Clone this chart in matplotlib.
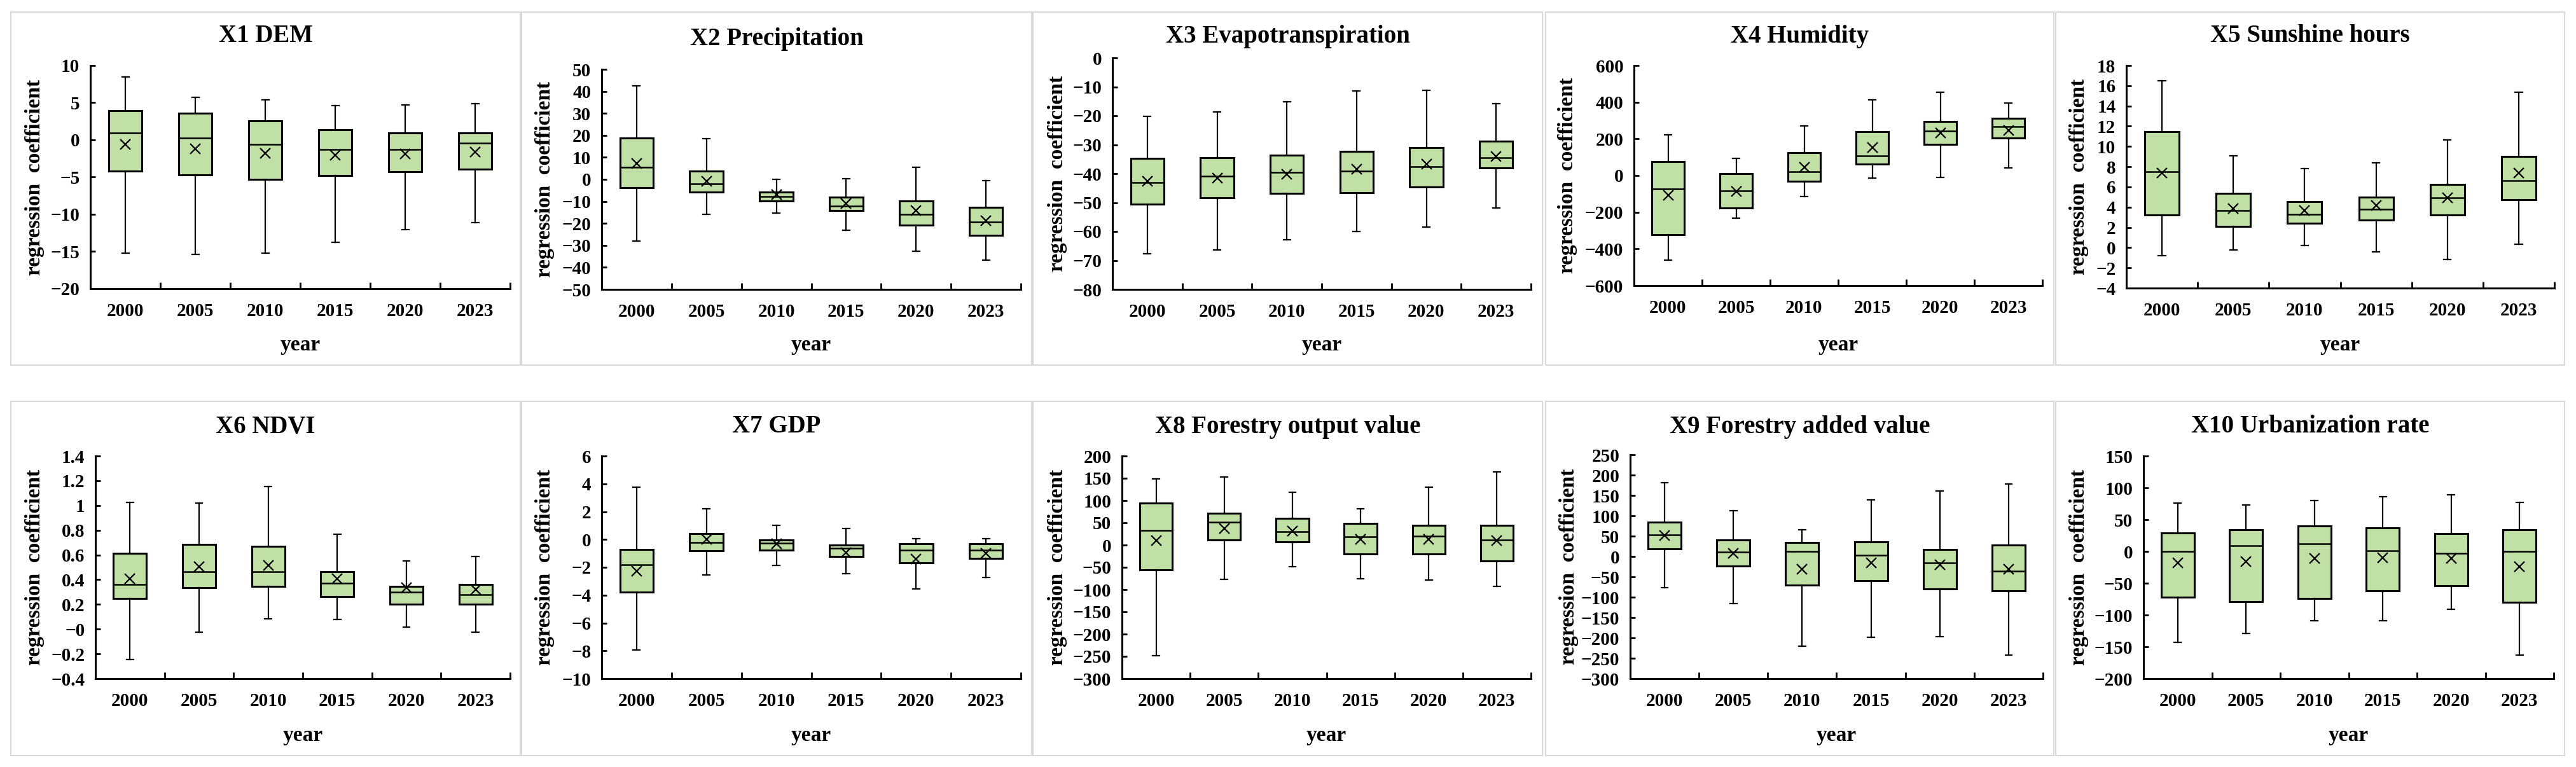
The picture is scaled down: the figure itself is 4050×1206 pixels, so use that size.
import numpy as np
import matplotlib
matplotlib.use('Agg')
import matplotlib.pyplot as plt
from matplotlib.patches import Rectangle
from matplotlib.ticker import FuncFormatter, FixedLocator

plt.rcParams['font.family'] = ['Liberation Serif', 'DejaVu Serif']
plt.rcParams['font.weight'] = 'bold'

years = ['2000', '2005', '2010', '2015', '2020', '2023']
titles = ['X1 DEM', 'X2 Precipitation', 'X3 Evapotranspiration', 'X4 Humidity',
          'X5 Sunshine hours', 'X6 NDVI', 'X7 GDP', 'X8 Forestry output value',
          'X9 Forestry added value', 'X10 Urbanization rate']

# box statistics, one row per factor, one column per year
whis_hi = [[8.5, 5.75, 5.4, 4.6, 4.67, 4.83],
           [42.5, 18.4, 0.0, 0.2, 5.6, -0.7],
           [-20.3, -18.7, -15.1, -11.4, -11.1, -15.8],
           [223, 93, 270, 411, 454, 395],
           [16.5, 9.05, 7.83, 8.36, 10.66, 15.38],
           [1.024, 1.018, 1.152, 0.767, 0.552, 0.585],
           [3.78, 2.22, 1.02, 0.77, 0.05, 0.05],
           [149, 153, 118, 82, 130, 164],
           [182, 113, 66, 139, 161, 178],
           [76, 73, 80, 86, 89, 77]]
q3 = [[3.95, 3.56, 2.6, 1.33, 0.94, 0.91],
      [18.9, 3.8, -5.9, -8.2, -9.9, -12.8],
      [-34.8, -34.5, -33.6, -32.4, -30.9, -28.8],
      [78, 9, 124, 241, 294, 311],
      [11.47, 5.36, 4.56, 5.0, 6.24, 9.03],
      [0.613, 0.684, 0.668, 0.462, 0.345, 0.361],
      [-0.7, 0.44, -0.03, -0.38, -0.33, -0.29],
      [94, 71, 60, 48, 44, 45],
      [84, 41, 34, 36, 17, 28],
      [29, 34, 40, 37, 28, 34]]
med = [[0.9, 0.28, -0.57, -1.32, -1.32, -0.47],
       [5.5, -2.0, -7.7, -12.1, -15.9, -19.5],
       [-43.0, -40.9, -39.6, -39.2, -37.6, -34.6],
       [-73, -82, 20, 108, 242, 267],
       [7.52, 3.7, 3.29, 3.8, 4.95, 6.63],
       [0.361, 0.466, 0.462, 0.373, 0.298, 0.279],
       [-1.82, -0.22, -0.28, -0.64, -0.77, -0.77],
       [33, 51, 30, 19, 20, 11],
       [53, 11, 13, 3, -16, -36],
       [0, 9, 12, 1, -3, 0]]
mean = [[-0.57, -1.19, -1.78, -2.04, -1.84, -1.61],
        [7.1, -0.9, -7.0, -10.9, -14.3, -18.9],
        [-42.7, -41.5, -40.2, -38.4, -36.8, -34.1],
        [-108, -85, 44, 154, 234, 245],
        [7.4, 3.87, 3.68, 4.16, 4.92, 7.35],
        [0.406, 0.505, 0.515, 0.406, 0.334, 0.318],
        [-2.27, 0.02, -0.33, -0.96, -1.4, -1.0],
        [10, 37, 31, 13, 13, 10],
        [51, 8, -31, -16, -21, -32],
        [-18, -16, -11, -10, -11, -24]]
q1 = [[-4.16, -4.72, -5.31, -4.79, -4.26, -3.9],
      [-3.9, -5.9, -9.7, -14.3, -20.9, -25.5],
      [-50.5, -48.3, -46.9, -46.6, -44.6, -38.0],
      [-322, -176, -32, 61, 169, 204],
      [3.22, 2.12, 2.41, 2.72, 3.2, 4.71],
      [0.249, 0.334, 0.345, 0.261, 0.204, 0.204],
      [-3.76, -0.79, -0.78, -1.24, -1.66, -1.34],
      [-55, 11, 7, -20, -20, -36],
      [18, -24, -70, -59, -80, -85],
      [-72, -79, -74, -62, -54, -80]]
whis_lo = [[-15.2, -15.35, -15.19, -13.75, -12.08, -11.13],
           [-27.9, -15.9, -15.4, -23.0, -32.8, -36.8],
           [-67.8, -66.3, -62.9, -60.1, -58.4, -51.8],
           [-460, -234, -113, -15, -12, 40],
           [-0.81, -0.21, 0.22, -0.4, -1.17, 0.34],
           [-0.247, -0.022, 0.084, 0.078, 0.017, -0.022],
           [-7.92, -2.55, -1.87, -2.45, -3.55, -2.73],
           [-249, -77, -49, -76, -79, -93],
           [-76, -116, -220, -198, -197, -242],
           [-143, -129, -109, -109, -91, -163]]

y_min = [-20, -50, -80, -600, -4, -0.4, -10, -300, -300, -200]
y_max = [10, 50, 0, 600, 18, 1.4, 6, 200, 250, 150]
y_step = [5, 10, 10, 200, 2, 0.2, 2, 50, 50, 50]

W, H = 4050, 1206
fig = plt.figure(figsize=(W / 100, H / 100), dpi=100)

# layout in pixels
panel_cols = [(17, 818), (820, 1622), (1624, 2425), (2430, 3229), (3232, 4032)]
panel_rows = [(19, 574), (631, 1188)]
ax_boxes = [(142, 802, 103, 454), (946, 1605, 109, 455), (1749, 2407, 91, 455),
            (2569, 3211, 103, 449), (3343, 4016, 103, 453),
            (150, 802, 717, 1067), (946, 1605, 717, 1067), (1764, 2407, 717, 1067),
            (2563, 3212, 715, 1067), (3370, 4015, 717, 1067)]
ylab_x = [55, 857, 1662, 2464, 3269, 55, 857, 1662, 2466, 3268]
title_y = [57, 61, 57, 57, 57, 671, 671, 671, 671, 671]
xlab_y = [543, 1157]

for r, (t, b) in enumerate(panel_rows):
    for (l, rr) in panel_cols:
        fig.add_artist(Rectangle((l / W, 1 - b / H), (rr - l) / W, (b - t) / H,
                                 transform=fig.transFigure, fill=False,
                                 edgecolor='#D9D9D9', linewidth=1.5))

fmt = FuncFormatter(lambda v, p: ('%g' % round(v, 6)).replace('-', '\u2212'))
box_green = '#C0E0A5'

for i in range(10):
    l, rgt, t, b = ax_boxes[i]
    ax = fig.add_axes([l / W, 1 - b / H, (rgt - l) / W, (b - t) / H])
    stats = []
    for j in range(6):
        stats.append(dict(med=med[i][j], q1=q1[i][j], q3=q3[i][j],
                          whislo=whis_lo[i][j], whishi=whis_hi[i][j],
                          mean=mean[i][j], fliers=[]))
    ax.bxp(stats, positions=range(1, 7), widths=0.48, capwidths=0.1,
           showmeans=True, patch_artist=True,
           boxprops=dict(facecolor=box_green, edgecolor='black', linewidth=2.2),
           whiskerprops=dict(color='black', linewidth=1.6),
           capprops=dict(color='black', linewidth=1.6),
           medianprops=dict(color='black', linewidth=1.8),
           meanprops=dict(marker='x', markeredgecolor='black', markersize=11,
                          markeredgewidth=1.6))

    ax.set_xlim(0.5, 6.5)
    ax.set_ylim(y_min[i], y_max[i])
    n = int(round((y_max[i] - y_min[i]) / y_step[i]))
    ax.set_yticks(np.linspace(y_min[i], y_max[i], n + 1))
    ax.yaxis.set_major_formatter(fmt)
    ax.set_xticks(range(1, 7))
    ax.set_xticklabels(years)
    ax.xaxis.set_minor_locator(FixedLocator(np.arange(0.5, 6.6, 1.0)))

    ax.spines['top'].set_visible(False)
    ax.spines['right'].set_visible(False)
    ax.spines['left'].set_linewidth(2.2)
    ax.spines['bottom'].set_linewidth(2.2)
    ax.tick_params(axis='x', which='major', length=0, pad=16, labelsize=21)
    ax.tick_params(axis='x', which='minor', direction='in', length=7, width=2)
    ax.tick_params(axis='y', which='major', direction='in', length=6, width=2,
                   pad=12, labelsize=21)
    ax.set_facecolor('none')

    row = i // 5
    cl, cr = panel_cols[i % 5]
    fig.text((cl + cr) / 2 / W, 1 - title_y[i] / H, titles[i], ha='center',
             va='center', fontsize=28, fontweight='bold')
    fig.text((l + rgt) / 2 / W, 1 - xlab_y[row] / H, 'year', ha='center',
             va='center', fontsize=24, fontweight='bold')
    fig.text(ylab_x[i] / W, 1 - (t + b) / 2 / H, 'regression  coefficient',
             ha='center', va='center', rotation=90, fontsize=24,
             fontweight='bold')

fig.savefig('out.png', dpi=100)
